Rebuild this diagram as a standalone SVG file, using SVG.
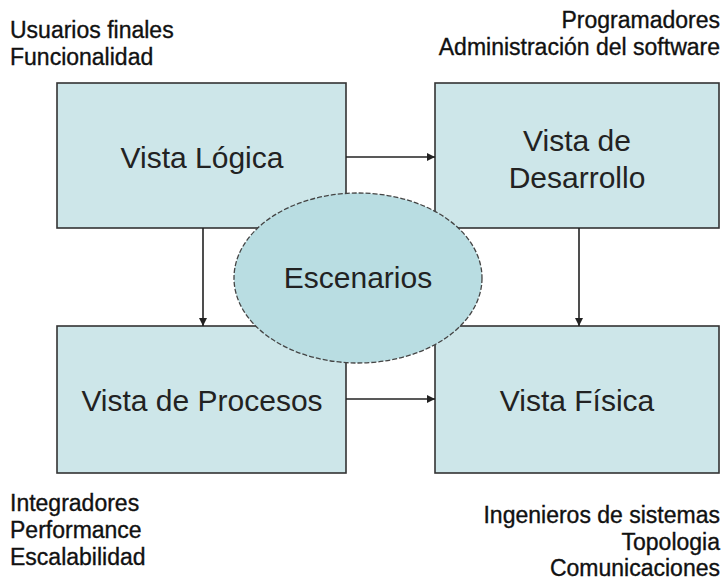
<svg xmlns="http://www.w3.org/2000/svg" width="727" height="583" viewBox="0 0 727 583">
<defs>
<style>
.box{fill:#cde6e9;stroke:#333;stroke-width:1.6}
.ell{fill:#b9dde2;stroke:#444;stroke-width:1.3;stroke-dasharray:5 2}
.lbl{font-family:"Liberation Sans",Arial,sans-serif;font-size:30px;fill:#222;text-anchor:middle}
.cap{font-family:"Liberation Sans",Arial,sans-serif;font-size:23px;fill:#111;stroke:#111;stroke-width:0.35}
.conn{stroke:#222;stroke-width:1.6;fill:none;marker-end:url(#ah)}
</style>
<marker id="ah" viewBox="0 0 8 8" refX="8" refY="4" markerWidth="5" markerHeight="5" orient="auto" markerUnits="strokeWidth">
<path d="M0,0 L8,4 L0,8 z" fill="#222"/>
</marker>
</defs>
<rect width="727" height="583" fill="#fff"/>

<g id="captions">
<text class="cap" x="10" y="38">Usuarios finales</text>
<text class="cap" x="10" y="65">Funcionalidad</text>
<text class="cap" x="720" y="28" text-anchor="end">Programadores</text>
<text class="cap" x="720" y="55" text-anchor="end">Administración del software</text>
<text class="cap" x="10" y="511">Integradores</text>
<text class="cap" x="10" y="538">Performance</text>
<text class="cap" x="10" y="565">Escalabilidad</text>
<text class="cap" x="720" y="523" text-anchor="end">Ingenieros de sistemas</text>
<text class="cap" x="720" y="550" text-anchor="end">Topologia</text>
<text class="cap" x="720" y="576" text-anchor="end">Comunicaciones</text>
</g>

<g id="logica">
<rect class="box" x="57" y="83" width="289" height="145"/>
<text class="lbl" x="202" y="168">Vista Lógica</text>
</g>
<g id="desarrollo">
<rect class="box" x="435" y="83" width="284" height="145"/>
<text class="lbl" x="577" y="151">Vista de</text>
<text class="lbl" x="577" y="188">Desarrollo</text>
</g>
<g id="procesos">
<rect class="box" x="57" y="326" width="289" height="147"/>
<text class="lbl" x="202" y="411">Vista de Procesos</text>
</g>
<g id="fisica">
<rect class="box" x="435" y="326" width="284" height="147"/>
<text class="lbl" x="577" y="411">Vista Física</text>
</g>

<g id="connectors">
<line class="conn" x1="346" y1="157" x2="435" y2="157"/>
<line class="conn" x1="203" y1="228" x2="203" y2="326"/>
<line class="conn" x1="579" y1="228" x2="579" y2="326"/>
<line class="conn" x1="346" y1="399" x2="435" y2="399"/>
</g>

<g id="escenarios">
<ellipse class="ell" cx="358" cy="278" rx="124" ry="85"/>
<text class="lbl" x="358" y="288">Escenarios</text>
</g>
</svg>
